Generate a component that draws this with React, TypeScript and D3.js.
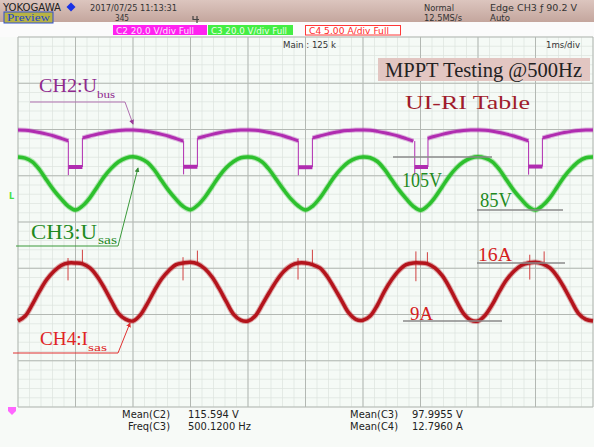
import React from "react";
import * as d3 from "d3";

const W = 594;
const H = 447;

// time axis: 1 ms/div, 10 divisions
const timeDivs = d3.range(0, 11);
const voltDivs = d3.range(-4, 5);
const sampleTimes = d3.range(0, 10 + 1e-9, 0.125);

// CH3 U_sas (V)
const ch3Usas = [
  105, 104.6, 103.2, 100.2, 96.2, 92.4, 89.2, 86.4, 85.0, 86.6, 89.6, 93.6, 97.6, 100.8, 103.2, 104.6,
  105.1, 104.5, 103.0, 100.0, 96.0, 92.2, 89.0, 86.3, 85.1, 86.8, 89.8, 93.8, 97.8, 101.0, 103.3, 104.7,
  105.0, 104.6, 103.1, 100.1, 96.3, 92.5, 89.1, 86.5, 85.0, 86.5, 89.5, 93.5, 97.5, 100.7, 103.1, 104.5,
  105.0, 104.7, 103.3, 100.3, 96.4, 92.6, 89.3, 86.4, 84.9, 86.6, 89.7, 93.7, 97.7, 100.9, 103.2, 104.6,
  105.1, 104.6, 103.2, 100.2, 96.2, 92.3, 89.1, 86.3, 85.0, 86.7, 89.6, 93.6, 97.6, 100.8, 103.3, 104.7,
  105.0,
];

// CH4 I_sas (A)
const ch4Isas = [
  9.0, 9.6, 11.0, 12.6, 14.0, 15.0, 15.7, 16.0, 16.0, 15.9, 15.4, 14.4, 13.0, 11.4, 9.9, 9.2,
  9.0, 9.7, 11.1, 12.7, 14.1, 15.1, 15.8, 16.0, 16.1, 15.9, 15.3, 14.3, 12.9, 11.3, 9.8, 9.1,
  9.0, 9.6, 11.0, 12.5, 13.9, 15.0, 15.7, 16.0, 16.0, 15.8, 15.4, 14.4, 13.0, 11.5, 10.0, 9.2,
  9.1, 9.6, 10.9, 12.6, 14.0, 15.1, 15.8, 16.0, 16.0, 15.9, 15.4, 14.5, 13.1, 11.4, 9.9, 9.1,
  9.0, 9.7, 11.0, 12.6, 14.0, 15.0, 15.7, 16.0, 16.1, 15.9, 15.4, 14.4, 13.0, 11.4, 9.9, 9.2,
  9.0,
];

// CH2 U_bus (V), NaN where the trace jumps into a dip
const ch2Ubus = [
  120, 119.9, 119.5, 118.9, 118.2, 117.4, 116.4, 115.3, NaN, 116.6, 117.4, 118.2, 118.8, 119.4, 119.8, 120.0,
  120, 119.8, 119.4, 118.8, 118.1, 117.3, 116.3, 115.2, NaN, 116.5, 117.3, 118.1, 118.8, 119.4, 119.8, 120.0,
  120, 119.9, 119.5, 118.9, 118.2, 117.4, 116.4, 115.3, NaN, 116.6, 117.4, 118.2, 118.9, 119.5, 119.8, 120.0,
  120, 119.9, 119.4, 118.8, 118.1, 117.3, 116.3, 115.2, NaN, 116.4, 117.3, 118.1, 118.8, 119.4, 119.8, 120.0,
  120, 119.9, 119.5, 118.9, 118.2, 117.4, 116.4, 115.3, NaN, 116.6, 117.4, 118.2, 118.9, 119.4, 119.8, 120.0,
  120,
];
const busDipStart = [0.875, 2.88, 4.875, 6.9, 8.88];
const busDipEnd = [1.12, 3.12, 5.12, 7.13, 9.12];
const busDipLevel = [104.0, 104.1, 103.9, 104.0, 104.2];
const busDipSpikeLow = [100.5, 100.8, 100.4, 100.6, 100.7];
const busDipResume = [116.6, 116.5, 116.6, 116.4, 116.6];

// switching spikes on CH4
const isasSpikeTimes = [0.87, 1.12, 2.87, 3.12, 4.87, 5.12, 6.92, 7.12, 8.9, 9.15];
const isasSpikeLow = [13.9, 16.0, 13.9, 16.0, 14.0, 16.0, 13.8, 15.8, 14.0, 15.9];
const isasSpikeHigh = [16.6, 17.6, 16.7, 17.5, 16.6, 17.6, 17.4, 17.3, 17.0, 17.4];

// reference level annotations
const usasLevels = [105, 85];
const usasLevelLabels = ["105V", "85V"];
const isasLevels = [16, 9];
const isasLevelLabels = ["16A", "9A"];

const measLabelsLeft = ["Mean(C2)", "Freq(C3)"];
const measValuesLeft = ["115.594 V", "500.1200 Hz"];
const measLabelsRight = ["Mean(C3)", "Mean(C4)"];
const measValuesRight = ["97.9955 V", "12.7960 A"];

const x = d3.scaleLinear().domain([0, 10]).range([18, 593]);
const yDiv = d3.scaleLinear().domain([-4, 4]).range([407, 37]);
const yUsas = d3.scaleLinear().domain([85, 105]).range([210, 157]);
const yIsas = d3.scaleLinear().domain([9, 16]).range([321, 263]);
const yUbus = d3.scaleLinear().domain([104, 120]).range([167, 130]);

const SERIF = "'Liberation Serif', 'Times New Roman', serif";
const SCOPE = "'Liberation Sans Narrow', 'DejaVu Sans Condensed', 'Liberation Sans', sans-serif";

const GREEN = "#2dc02d";
const RED = "#b4141c";
const MAG = "#b02cb0";

function tracePath(values: number[], y: d3.ScaleLinear<number, number>) {
  const pts: [number, number][] = sampleTimes.map((t, i) => [t, values[i]]);
  return d3
    .line<[number, number]>()
    .defined((d) => !isNaN(d[1]))
    .x((d) => x(d[0]))
    .y((d) => y(d[1]))
    .curve(d3.curveCatmullRom)(pts) as string;
}

export default function App() {
  const minorX = d3.range(0, 10.0001, 0.2);
  const minorY = d3.range(-4, 4.0001, 0.2);
  const greenD = tracePath(ch3Usas, yUsas);
  const redD = tracePath(ch4Isas, yIsas);
  const magD = tracePath(ch2Ubus, yUbus);

  return (
    <div style={{ position: "fixed", left: 0, top: 0 }}>
      <svg width={W} height={H} style={{ display: "block" }}>
        <defs>
          <linearGradient id="bar" x1="0" y1="0" x2="0" y2="1">
            <stop offset="0" stopColor="#dcc5be" />
            <stop offset="1" stopColor="#c4a69d" />
          </linearGradient>
          <marker id="arrM" viewBox="0 0 6 6" refX="5" refY="3" markerWidth="5" markerHeight="5" orient="auto">
            <path d="M0,0 L6,3 L0,6 z" fill="#9a3a9a" />
          </marker>
          <marker id="arrG" viewBox="0 0 6 6" refX="5" refY="3" markerWidth="5" markerHeight="5" orient="auto">
            <path d="M0,0 L6,3 L0,6 z" fill="#3a8a3a" />
          </marker>
          <marker id="arrR" viewBox="0 0 6 6" refX="5" refY="3" markerWidth="5" markerHeight="5" orient="auto">
            <path d="M0,0 L6,3 L0,6 z" fill="#e03030" />
          </marker>
        </defs>
        <rect x={0} y={0} width={W} height={H} fill="#f7faf7" />
        {/* header bar */}
        <rect x={0} y={0} width={W} height={22} fill="url(#bar)" />
        <rect x={0} y={22} width={W} height={15} fill="#fbfbfb" />
        <text x={3} y={11} fontFamily={SCOPE} fontSize={10} fill="#222" textLength={58} lengthAdjust="spacingAndGlyphs">YOKOGAWA</text>
        <path d="M71,2.5 L75.5,7 L71,11.5 L66.5,7 Z" fill="#1832e6" />
        <text x={90} y={11} fontFamily={SCOPE} fontSize={9.5} fill="#333" textLength={87} lengthAdjust="spacingAndGlyphs">2017/07/25 11:13:31</text>
        <rect x={4} y={12} width={49} height={11} fill="#b8b244" stroke="#3050d0" strokeWidth={1} />
        <text x={7} y={21} fontFamily={SERIF} fontSize={10} fill="#2244cc" textLength={43} lengthAdjust="spacingAndGlyphs">Preview</text>
        <text x={115} y={21} fontFamily={SCOPE} fontSize={9.5} fill="#333" textLength={14} lengthAdjust="spacingAndGlyphs">345</text>
        <path d="M193,16 L193,19.5 L199,19.5 M197,16 L197,23" stroke="#444" strokeWidth={1.2} fill="none" />
        <text x={424} y={11} fontFamily={SCOPE} fontSize={9.5} fill="#333" textLength={30} lengthAdjust="spacingAndGlyphs">Normal</text>
        <text x={424} y={21} fontFamily={SCOPE} fontSize={9.5} fill="#333" textLength={38} lengthAdjust="spacingAndGlyphs">12.5MS/s</text>
        <text x={490} y={11} fontFamily={SCOPE} fontSize={9.5} fill="#333" textLength={87} lengthAdjust="spacingAndGlyphs">Edge CH3 ƒ 90.2 V</text>
        <text x={490} y={21} fontFamily={SCOPE} fontSize={9.5} fill="#333" textLength={20} lengthAdjust="spacingAndGlyphs">Auto</text>
        {/* channel boxes */}
        <rect x={113} y={25} width={94} height={10} fill="#ff22f0" />
        <text x={116} y={33.5} fontFamily={SCOPE} fontSize={9} fill="#ffe0ff" textLength={78} lengthAdjust="spacingAndGlyphs">C2 20.0 V/div Full</text>
        <rect x={208} y={25} width={85} height={10} fill="#44ee44" />
        <text x={211} y={33.5} fontFamily={SCOPE} fontSize={9} fill="#eaffea" textLength={76} lengthAdjust="spacingAndGlyphs">C3 20.0 V/div Full</text>
        <rect x={305.5} y={25.5} width={95} height={9.5} fill="#ffffff" stroke="#ff3838" strokeWidth={1} />
        <text x={309} y={33.5} fontFamily={SCOPE} fontSize={9} fill="#ff2a2a" textLength={80} lengthAdjust="spacingAndGlyphs">C4 5.00 A/div Full</text>

        {/* grid */}
        <rect x={x(0)} y={yDiv(4)} width={x(10) - x(0)} height={yDiv(-4) - yDiv(4)} fill="#f5faf6" />
        {minorX.map((t, i) => (
          <line key={"mx" + i} x1={x(t)} x2={x(t)} y1={yDiv(4)} y2={yDiv(-4)} stroke="#dde2de" strokeWidth={0.7} />
        ))}
        {minorY.map((d, i) => (
          <line key={"my" + i} x1={x(0)} x2={x(10)} y1={yDiv(d)} y2={yDiv(d)} stroke="#dde2de" strokeWidth={0.7} />
        ))}
        {timeDivs.map((t) => (
          <line key={"vx" + t} x1={x(t)} x2={x(t)} y1={yDiv(4)} y2={yDiv(-4)} stroke="#b3b8b3" strokeWidth={1} />
        ))}
        {voltDivs.map((d) => (
          <line key={"hy" + d} x1={x(0)} x2={x(10)} y1={yDiv(d)} y2={yDiv(d)} stroke="#b3b8b3" strokeWidth={1} />
        ))}
        <text x={283} y={48} fontFamily={SCOPE} fontSize={9} fill="#333" textLength={53} lengthAdjust="spacingAndGlyphs">Main : 125 k</text>
        <text x={546} y={48} fontFamily={SCOPE} fontSize={9.5} fill="#333" textLength={34} lengthAdjust="spacingAndGlyphs">1ms/div</text>
        <text x={9} y={199} fontFamily={SCOPE} fontSize={9} fontWeight="bold" fill="#44e044">L</text>
        <path d="M8,407 L16,407 L16,411 L12,415 L8,411 Z" fill="#ff66ff" />

        {/* traces */}
        <path d={magD} fill="none" stroke={MAG} strokeWidth={5} strokeOpacity={0.35} />
        <path d={magD} fill="none" stroke={MAG} strokeWidth={3} />
        {busDipStart.map((t0, i) => (
          <g key={"dip" + i}>
            <line x1={x(t0)} x2={x(t0)} y1={yUbus(ch2Ubus[Math.round(t0 / 0.125)] || 115.3)} y2={yUbus(busDipSpikeLow[i])} stroke={MAG} strokeWidth={1} />
            <line x1={x(busDipEnd[i])} x2={x(busDipEnd[i])} y1={yUbus(busDipLevel[i])} y2={yUbus(busDipResume[i])} stroke={MAG} strokeWidth={1} />
            <line x1={x(t0)} x2={x(busDipEnd[i])} y1={yUbus(busDipLevel[i])} y2={yUbus(busDipLevel[i])} stroke={MAG} strokeWidth={4} />
          </g>
        ))}
        <path d={greenD} fill="none" stroke={GREEN} strokeWidth={5.5} strokeOpacity={0.35} />
        <path d={greenD} fill="none" stroke={GREEN} strokeWidth={3.5} />
        {isasSpikeTimes.map((t, i) => (
          <line key={"sp" + i} x1={x(t)} x2={x(t)} y1={yIsas(isasSpikeLow[i])} y2={yIsas(isasSpikeHigh[i])} stroke="#d04040" strokeWidth={1} />
        ))}
        <path d={redD} fill="none" stroke={RED} strokeWidth={5.5} strokeOpacity={0.35} />
        <path d={redD} fill="none" stroke={RED} strokeWidth={3.5} />

        {/* level annotations */}
        <line x1={393} x2={492} y1={yUsas(usasLevels[0])} y2={yUsas(usasLevels[0])} stroke="#8a8a8a" strokeWidth={1.5} />
        <line x1={477} x2={563} y1={yUsas(usasLevels[1])} y2={yUsas(usasLevels[1])} stroke="#8a8a8a" strokeWidth={1.5} />
        <line x1={477} x2={565} y1={yIsas(isasLevels[0])} y2={yIsas(isasLevels[0])} stroke="#8a8a8a" strokeWidth={1.5} />
        <line x1={403} x2={502} y1={yIsas(isasLevels[1])} y2={yIsas(isasLevels[1])} stroke="#8a8a8a" strokeWidth={1.5} />
        <text x={402} y={187} fontFamily={SERIF} fontSize={20} fill="#1f8a1f" textLength={40} lengthAdjust="spacingAndGlyphs">{usasLevelLabels[0]}</text>
        <text x={480} y={207} fontFamily={SERIF} fontSize={20} fill="#1f8a1f" textLength={32} lengthAdjust="spacingAndGlyphs">{usasLevelLabels[1]}</text>
        <text x={478} y={261} fontFamily={SERIF} fontSize={19} fill="#d42020" textLength={34} lengthAdjust="spacingAndGlyphs">{isasLevelLabels[0]}</text>
        <text x={410} y={320} fontFamily={SERIF} fontSize={19} fill="#d42020" textLength={23} lengthAdjust="spacingAndGlyphs">{isasLevelLabels[1]}</text>

        {/* title box */}
        <rect x={378} y={58} width={212} height={23} fill="#e2c6c2" />
        <text x={385} y={77} fontFamily={SERIF} fontSize={21} fill="#222" textLength={197} lengthAdjust="spacingAndGlyphs">MPPT Testing @500Hz</text>
        <text x={405} y={109} fontFamily={SERIF} fontSize={19} fill="#a01c2c" textLength={125} lengthAdjust="spacingAndGlyphs">UI-RI Table</text>

        {/* channel labels */}
        <text x={39} y={92} fontFamily={SERIF} fontSize={18} fill="#8e2a8e" textLength={58} lengthAdjust="spacingAndGlyphs">CH2:U</text>
        <text x={97} y={98} fontFamily={SERIF} fontSize={11} fill="#8e2a8e" textLength={18} lengthAdjust="spacingAndGlyphs">bus</text>
        <polyline points="30,102 125,102 133,124" fill="none" stroke="#b070b0" strokeWidth={1} markerEnd="url(#arrM)" />

        <text x={31} y={239} fontFamily={SERIF} fontSize={20} fill="#1f8a1f" textLength={66} lengthAdjust="spacingAndGlyphs">CH3:U</text>
        <text x={98} y={244} fontFamily={SERIF} fontSize={12} fill="#1f8a1f" textLength={19} lengthAdjust="spacingAndGlyphs">sas</text>
        <polyline points="16,246 118,246 138,168" fill="none" stroke="#3a9a3a" strokeWidth={1} markerEnd="url(#arrG)" />

        <text x={40} y={345} fontFamily={SERIF} fontSize={18} fill="#e02424" textLength={48} lengthAdjust="spacingAndGlyphs">CH4:I</text>
        <text x={88} y={351} fontFamily={SERIF} fontSize={11} fill="#e02424" textLength={19} lengthAdjust="spacingAndGlyphs">sas</text>
        <polyline points="13,353 118,353 130,323" fill="none" stroke="#e03030" strokeWidth={1} markerEnd="url(#arrR)" />

        {/* measurements */}
        {measLabelsLeft.map((s, i) => (
          <text key={"ml" + i} x={170} y={418 + i * 12} textAnchor="end" fontFamily={SCOPE} fontSize={11} fill="#222">{s}</text>
        ))}
        {measValuesLeft.map((s, i) => (
          <text key={"mv" + i} x={188} y={418 + i * 12} fontFamily={SCOPE} fontSize={11} fill="#222">{s}</text>
        ))}
        {measLabelsRight.map((s, i) => (
          <text key={"rl" + i} x={398} y={418 + i * 12} textAnchor="end" fontFamily={SCOPE} fontSize={11} fill="#222">{s}</text>
        ))}
        {measValuesRight.map((s, i) => (
          <text key={"rv" + i} x={412} y={418 + i * 12} fontFamily={SCOPE} fontSize={11} fill="#222">{s}</text>
        ))}
      </svg>
    </div>
  );
}
